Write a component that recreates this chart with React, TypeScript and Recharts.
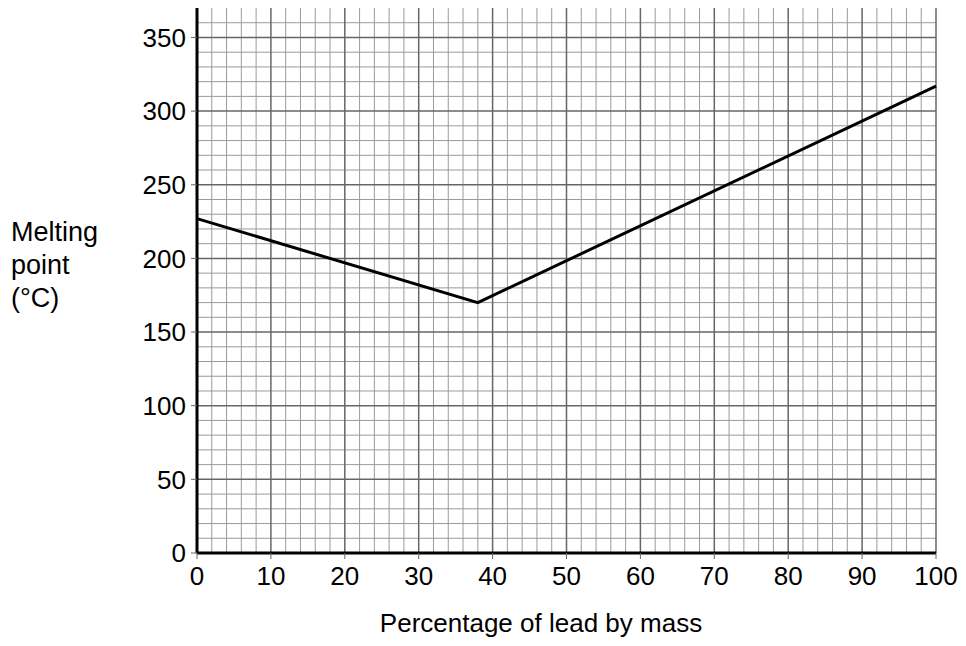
import React from "react";
import { LineChart, Line, XAxis, YAxis, ReferenceLine } from "recharts";

// melting point of tin/lead solder vs % lead
const leadPercent = [0, 38, 100];
const meltingPoint = [227, 170, 317];

const xTicks = [0, 10, 20, 30, 40, 50, 60, 70, 80, 90, 100];
const yTicks = [0, 50, 100, 150, 200, 250, 300, 350];

const data = leadPercent.map((x, i) => ({ x, y: meltingPoint[i] }));

// graph paper lines
const xMinor = Array.from({ length: 50 }, (_, i) => (i + 1) * 2).filter((v) => v % 10 !== 0);
const xMajor = xTicks.slice(1);
const yMinor = Array.from({ length: 36 }, (_, i) => (i + 1) * 10).filter((v) => v % 50 !== 0);
const yMajor = yTicks.slice(1);

const font = "'Liberation Sans', Arial, sans-serif";
const tickStyle = { fill: "#000", fontSize: 26, fontFamily: font };

export default function App() {
  return (
    <div style={{ position: "absolute", left: 0, top: 0, background: "#fff" }}>
      <LineChart width={966} height={646} data={data} margin={{ top: 8, right: 30, left: 0, bottom: 0 }}>
        <XAxis
          dataKey="x"
          type="number"
          domain={[0, 100]}
          ticks={xTicks}
          interval={0}
          height={93}
          tick={tickStyle}
          tickSize={6}
          tickMargin={8}
          axisLine={{ stroke: "#000", strokeWidth: 3 }}
          tickLine={{ stroke: "#666", strokeWidth: 1 }}
          label={{
            content: () => (
              <text x={541} y={632} textAnchor="middle" fontSize={26} fontFamily={font} fill="#000">
                Percentage of lead by mass
              </text>
            ),
          }}
        />
        <YAxis
          type="number"
          domain={[0, 370]}
          ticks={yTicks}
          interval={0}
          width={197}
          tick={tickStyle}
          tickSize={6}
          tickMargin={5}
          axisLine={{ stroke: "#000", strokeWidth: 3 }}
          tickLine={{ stroke: "#666", strokeWidth: 1 }}
          label={{
            content: () => (
              <text fontSize={27} fontFamily={font} fill="#000">
                <tspan x={11} y={241}>Melting</tspan>
                <tspan x={11} y={274}>point</tspan>
                <tspan x={11} y={307}>(°C)</tspan>
              </text>
            ),
          }}
        />
        {xMinor.map((v) => (
          <ReferenceLine key={"xm" + v} x={v} stroke="#9a9a9a" strokeWidth={1} />
        ))}
        {yMinor.map((v) => (
          <ReferenceLine key={"ym" + v} y={v} stroke="#9a9a9a" strokeWidth={1} />
        ))}
        {xMajor.map((v) => (
          <ReferenceLine key={"xM" + v} x={v} stroke="#666" strokeWidth={1.5} />
        ))}
        {yMajor.map((v) => (
          <ReferenceLine key={"yM" + v} y={v} stroke="#666" strokeWidth={1.5} />
        ))}
        <Line
          type="linear"
          dataKey="y"
          stroke="#000"
          strokeWidth={3}
          dot={false}
          isAnimationActive={false}
        />
      </LineChart>
    </div>
  );
}
